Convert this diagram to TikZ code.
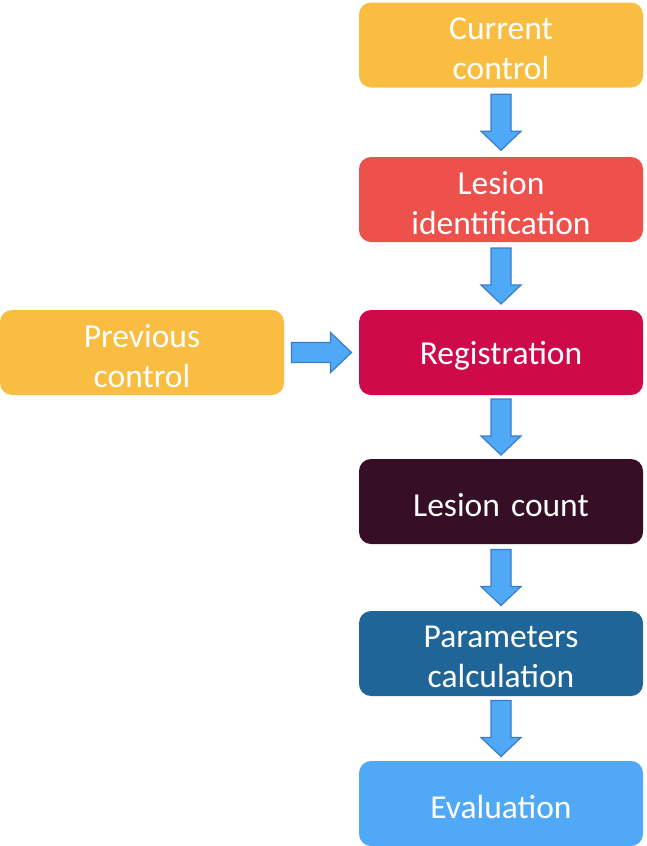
\documentclass[tikz,border=0pt]{standalone}
\usepackage{fontspec}
\setmainfont{Carlito}
\usetikzlibrary{calc}
\definecolor{cOrange}{HTML}{F9BE41}
\definecolor{cRed}{HTML}{EE504B}
\definecolor{cCrimson}{HTML}{CE0A4A}
\definecolor{cPurple}{HTML}{360E26}
\definecolor{cDBlue}{HTML}{1F6598}
\definecolor{cLBlue}{HTML}{4FA9F7}
\definecolor{aFill}{HTML}{4FA9F6}
\definecolor{aLine}{HTML}{3A7CC8}
\tikzset{
  box/.style={rectangle, rounded corners=12pt, minimum width=284pt, minimum height=85pt,
    text width=270pt, align=center, inner sep=0pt, text=white,
    font=\fontsize{33.5}{40}\selectfont},
  blockarrow/.style={fill=aFill, draw=aLine, line width=1.2pt, line join=miter},
  pics/downarr/.style={code={
    \draw[blockarrow] (-10,-28) -- (-10,9) -- (-20,9) -- (0,28) -- (20,9) -- (10,9) -- (10,-28) -- cycle;
  }},
  pics/rightarr/.style={code={
    \draw[blockarrow] (-30,-10) -- (9,-10) -- (9,-20) -- (30,0) -- (9,20) -- (9,10) -- (-30,10) -- cycle;
  }}
}
\newcommand{\lowr}[1]{\raisebox{-3.5pt}[\height][\depth]{\parbox{270pt}{\centering #1}}}
\begin{document}
\begin{tikzpicture}[x=1pt,y=-1pt]
\useasboundingbox (0,0) rectangle (646,846);
\node[box, fill=cOrange] (cur) at (501,45) {\lowr{Current\\control}};
\node[box, fill=cRed] (les) at (501,199.5) {\lowr{Lesion\\identification}};
\node[box, fill=cCrimson] (reg) at (501,352.5) {\lowr{Registration}};
\node[box, fill=cOrange] (prev) at (142,352.5) {\lowr{Previous\\control}};
\node[box, fill=cPurple] (cnt) at (501,501.5) {\lowr{Lesion count}};
\node[box, fill=cDBlue] (par) at (501,653.5) {\lowr{Parameters\\calculation}};
\node[box, fill=cLBlue] (ev) at (501,803.5) {\lowr{Evaluation}};
\path (cur.south) -- (les.north) coordinate[pos=0.5] (m1);
\path (les.south) -- (reg.north) coordinate[pos=0.5] (m2);
\path (reg.south) -- (cnt.north) coordinate[pos=0.5] (m3);
\path (cnt.south) -- (par.north) coordinate[pos=0.5] (m4);
\path (par.south) -- (ev.north) coordinate[pos=0.5] (m5);
\path (prev.east) -- (reg.west) coordinate[pos=0.5] (m6);
\pic at (m1) {downarr};
\pic at (m2) {downarr};
\pic at (m3) {downarr};
\pic at (m4) {downarr};
\pic at (m5) {downarr};
\pic at (m6) {rightarr};
\end{tikzpicture}
\end{document}
